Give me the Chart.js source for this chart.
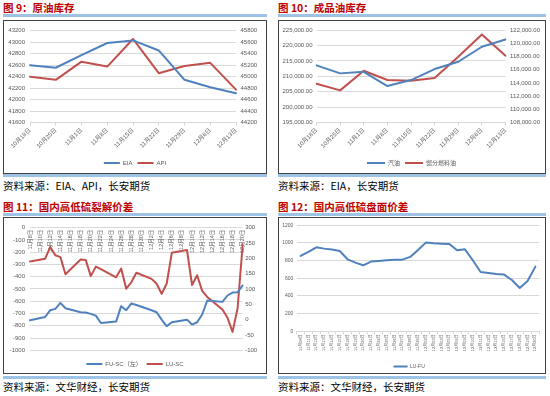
<!DOCTYPE html>
<html><head><meta charset="utf-8">
<script src="https://cdn.jsdelivr.net/npm/chart.js@4"></script>
<style>
body{margin:0;width:550px;height:396px;background:#fff;position:relative;overflow:hidden;font-family:'Noto Sans CJK SC',sans-serif;}
.t{position:absolute;font-weight:bold;color:#c00000;font-size:10.5px;line-height:14px;white-space:nowrap;}
.bl{position:absolute;height:3px;background:#9dc3e6;}
.box{position:absolute;border:1px solid #404040;box-sizing:border-box;}
.src{position:absolute;font-size:10.5px;line-height:14px;color:#000;white-space:nowrap;}
canvas{position:absolute;}
</style></head>
<body>
<div class="t" style="left:3px;top:1px">图 9：原油库存</div>
<div class="bl" style="left:3px;top:14px;width:264px"></div>
<div class="box" style="left:3px;top:20px;width:264px;height:154px"></div>
<div class="bl" style="left:3px;top:174px;width:264px"></div>
<div class="src" style="left:3px;top:179px">资料来源：EIA、API，长安期货</div>

<div class="t" style="left:278px;top:1px">图 10：成品油库存</div>
<div class="bl" style="left:278px;top:14px;width:268px"></div>
<div class="box" style="left:278px;top:20px;width:268px;height:154px"></div>
<div class="bl" style="left:278px;top:174px;width:268px"></div>
<div class="src" style="left:278px;top:179px">资料来源：EIA，长安期货</div>

<div class="t" style="left:3px;top:200px">图 11：国内高低硫裂解价差</div>
<div class="bl" style="left:3px;top:213px;width:264px"></div>
<div class="box" style="left:3px;top:217px;width:264px;height:157px"></div>
<div class="bl" style="left:3px;top:376px;width:264px"></div>
<div class="src" style="left:3px;top:380px">资料来源：文华财经，长安期货</div>

<div class="t" style="left:278px;top:200px">图 12：国内高低硫盘面价差</div>
<div class="bl" style="left:278px;top:213px;width:268px"></div>
<div class="box" style="left:278px;top:217px;width:268px;height:157px"></div>
<div class="bl" style="left:278px;top:376px;width:268px"></div>
<div class="src" style="left:278px;top:380px">资料来源：文华财经，长安期货</div>

<canvas id="c9" width="262" height="154" style="left:4px;top:22px"></canvas>
<canvas id="c10" width="265" height="154" style="left:279px;top:22px"></canvas>
<canvas id="c11" width="262" height="159" style="left:4px;top:218px"></canvas>
<canvas id="c12" width="265" height="161" style="left:279px;top:218px"></canvas>

<script>
// ---- data ----
const weeks = ['10月18日','10月25日','11月1日','11月8日','11月15日','11月22日','11月29日','12月6日','12月13日'];
const eia = [42600, 42555, 42775, 42985, 43030, 42855, 42345, 42215, 42110];
const api = [45000, 44945, 45260, 45175, 45655, 45060, 45185, 45240, 44775];
const gasoline = [213570, 210980, 211500, 206880, 208820, 212380, 214750, 219610, 221980];
const distillate = [113890, 112890, 115860, 114450, 114350, 114750, 117970, 121350, 118120];

const days11 = ['11月8日','11月9日','11月10日','11月11日','11月12日','11月13日','11月14日','11月15日','11月16日','11月17日',
  '11月18日','11月19日','11月20日','11月21日','11月22日','11月23日','11月24日','11月25日','11月26日','11月27日',
  '11月28日','11月29日','11月30日','12月1日','12月2日','12月3日','12月4日','12月5日','12月6日','12月7日',
  '12月8日','12月9日','12月10日','12月11日','12月12日','12月13日','12月14日','12月15日','12月16日','12月17日',
  '12月18日','12月19日','12月20日'];
const fuSc = [-755,null,null,-728,-673,-662,-613,-657,null,null,
  -690,-692,-703,-717,-777,null,null,-766,-640,-673,
  -619,-630,null,null,-673,-690,-750,-804,-771,null,
  null,-750,-790,-771,-708,-594,null,null,-605,-553,
  -529,-526,-471];
const luSc = [190,null,null,199,237,210,204,148,null,null,
  196,195,142,173,165,null,null,138,167,101,
  122,153,null,null,133,117,84,118,218,null,
  null,227,113,145,94,74,null,null,33,6,
  -40,38,246];

const days12 = ['11月08日','11月11日','11月12日','11月13日','11月14日','11月15日','11月18日','11月19日','11月20日','11月21日',
  '11月22日','11月25日','11月26日','11月27日','11月28日','11月29日','12月02日','12月03日','12月04日','12月05日',
  '12月06日','12月09日','12月10日','12月11日','12月12日','12月13日','12月16日','12月17日','12月18日','12月19日','12月20日'];
const luFu = [853,898,951,936,925,909,815,777,747,789,796,804,811,811,842,921,1004,996,992,989,917,928,804,672,660,649,642,581,491,570,732];

// ---- style ----
Chart.defaults.font.family = "'Liberation Sans','Noto Sans CJK SC',sans-serif";
Chart.defaults.color = '#595959';
const BLUE = '#4F81BD', RED = '#C0504D', GRID = '#d9d9d9';

function ds(label, data, color, axis){
  return {label, data, yAxisID: axis, borderColor: color, backgroundColor: color, borderWidth: 2,
    pointRadius: 0, tension: 0, fill: false, spanGaps: true, borderJoinStyle: 'round', borderCapStyle: 'round'};
}
function legend(size, w, gapAbove){
  const l = {position: 'bottom', labels: {usePointStyle: true, pointStyle: 'line', pointStyleWidth: w,
    font: {size: size}, padding: 5, color: '#595959'}};
  if (gapAbove) l.title = {display: true, text: '', font: {size: 1}, padding: {top: gapAbove, bottom: 0}};
  return l;
}
function yAxis(pos, min, max, step, width, pad, size, cb, grid){
  return {position: pos, min, max,
    ticks: {stepSize: step, font: {size}, padding: pad, callback: cb},
    grid: grid ? {color: GRID, drawTicks: false} : {display: false, drawTicks: false},
    border: {display: false},
    afterFit: s => { s.width = width; }};
}
const plain = v => String(v);
const money = v => v.toLocaleString('en-US', {minimumFractionDigits: 2, maximumFractionDigits: 2});

function weekX(h){
  return {offset: false, grid: {drawOnChartArea: false, tickLength: 3, color: GRID}, border: {color: GRID},
    ticks: {font: {size: 6}, minRotation: 45, maxRotation: 45, padding: 1, autoSkip: false},
    afterFit: s => { s.height = h; }};
}

new Chart(document.getElementById('c9'), {
  type: 'line',
  data: {labels: weeks, datasets: [ds('EIA', eia, BLUE, 'y'), ds('API', api, RED, 'y1')]},
  options: {responsive: false, animation: false, events: [],
    layout: {padding: {top: 7, left: 0, right: 0, bottom: 0}},
    plugins: {legend: legend(6, 16), tooltip: {enabled: false}},
    scales: {
      x: weekX(32.3),
      y: yAxis('left', 41600, 43200, 200, 26, 5, 6, plain, true),
      y1: yAxis('right', 44200, 45800, 200, 30, 4.5, 6, plain, false)
    }}
});

new Chart(document.getElementById('c10'), {
  type: 'line',
  data: {labels: weeks, datasets: [ds('汽油', gasoline, BLUE, 'y'), ds('馏分燃料油', distillate, RED, 'y1')]},
  options: {responsive: false, animation: false, events: [],
    layout: {padding: {top: 8, left: 0, right: 0, bottom: 0}},
    plugins: {legend: legend(6, 18), tooltip: {enabled: false}},
    scales: {
      x: weekX(32.3),
      y: yAxis('left', 195000, 225000, 5000, 37.5, 4, 6, money, true),
      y1: yAxis('right', 108000, 122000, 2000, 38.5, 4.5, 6, money, false)
    }}
});

new Chart(document.getElementById('c11'), {
  type: 'line',
  data: {labels: days11, datasets: [ds('FU-SC（左）', fuSc, BLUE, 'y'), ds('LU-SC', luSc, RED, 'y1')]},
  options: {responsive: false, animation: false, events: [],
    layout: {padding: {top: 9.7, left: 0, right: 0, bottom: 0}},
    plugins: {legend: legend(6, 16, 4.5), tooltip: {enabled: false}},
    scales: {
      x: {axis: 'x', position: {y: 0}, offset: false, grid: {display: false, drawTicks: false}, border: {display: false},
        ticks: {autoSkip: false, minRotation: 90, maxRotation: 90, font: {size: 5.5}, padding: 2,
          callback: function(v, i){ return i % 2 === 0 ? this.getLabelForValue(v) : ''; }}},
      y: yAxis('left', -1000, 0, 100, 26, 5, 6, plain, true),
      y1: yAxis('right', -100, 300, 50, 23.3, 2.5, 6, plain, false)
    }}
});

new Chart(document.getElementById('c12'), {
  type: 'line',
  data: {labels: days12, datasets: [ds('LU-FU', luFu, BLUE, 'y')]},
  options: {responsive: false, animation: false, events: [],
    layout: {padding: {top: 7.3, left: 0, right: 4.7, bottom: 0}},
    plugins: {legend: legend(5, 14), tooltip: {enabled: false}},
    scales: {
      x: {offset: true, grid: {offset: true, drawOnChartArea: false, tickLength: 3, color: GRID}, border: {color: GRID},
        ticks: {autoSkip: false, minRotation: 90, maxRotation: 90, font: {size: 4}, padding: 0},
        afterFit: s => { s.height = 27.7; }},
      y: yAxis('left', 0, 1200, 200, 17.7, 3.4, 5, plain, true)
    }}
});
</script>
</body></html>
